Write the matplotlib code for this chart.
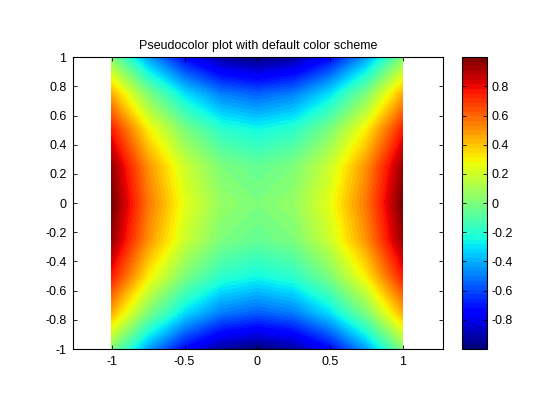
import numpy as np
import matplotlib
matplotlib.use('Agg')
import matplotlib.pyplot as plt

plt.rcParams['font.family'] = ['Liberation Sans', 'DejaVu Sans']
plt.rcParams['axes.unicode_minus'] = False

# grid nodes and the values (saddle, red at x=+-1, blue at y=+-1)
x_nodes = [-1, -0.75, -0.5, -0.25, 0, 0.25, 0.5, 0.75, 1]
y_nodes = [-1, -0.75, -0.5, -0.25, 0, 0.25, 0.5, 0.75, 1]
z_vals = [
    [0.00, -0.44, -0.75, -0.94, -1.00, -0.94, -0.75, -0.44, 0.00],
    [0.44, 0.00, -0.31, -0.50, -0.56, -0.50, -0.31, 0.00, 0.44],
    [0.75, 0.31, 0.00, -0.19, -0.25, -0.19, 0.00, 0.31, 0.75],
    [0.94, 0.50, 0.19, 0.00, -0.06, 0.00, 0.19, 0.50, 0.94],
    [1.00, 0.56, 0.25, 0.06, 0.00, 0.06, 0.25, 0.56, 1.00],
    [0.94, 0.50, 0.19, 0.00, -0.06, 0.00, 0.19, 0.50, 0.94],
    [0.75, 0.31, 0.00, -0.19, -0.25, -0.19, 0.00, 0.31, 0.75],
    [0.44, 0.00, -0.31, -0.50, -0.56, -0.50, -0.31, 0.00, 0.44],
    [0.00, -0.44, -0.75, -0.94, -1.00, -0.94, -0.75, -0.44, 0.00],
]
xticks = [-1, -0.5, 0, 0.5, 1]
xlabels = ['-1', '-0.5', '0', '0.5', '1']
yticks = [-1, -0.8, -0.6, -0.4, -0.2, 0, 0.2, 0.4, 0.6, 0.8, 1]
ylabels = ['-1', '-0.8', '-0.6', '-0.4', '-0.2', '0', '0.2', '0.4', '0.6', '0.8', '1']
cticks = [-0.8, -0.6, -0.4, -0.2, 0, 0.2, 0.4, 0.6, 0.8]
clabels = ['-0.8', '-0.6', '-0.4', '-0.2', '0', '0.2', '0.4', '0.6', '0.8']

Z = np.array(z_vals)
cmap = plt.get_cmap('jet', 64)
levels = np.linspace(Z.min(), Z.max(), 65)

fig = plt.figure(figsize=(5.6, 4.2), dpi=100)
ax = fig.add_axes([0.131, 0.169, 0.6596, 0.695])
cs = ax.contourf(x_nodes, y_nodes, Z, levels=levels, cmap=cmap, antialiased=False)

ax.set_xlim(-1.264, 1.275)
ax.set_ylim(-1, 1)
ax.set_xticks(xticks)
ax.set_xticklabels(xlabels)
ax.set_yticks(yticks)
ax.set_yticklabels(ylabels)
ax.tick_params(direction='in', top=True, right=True, labelsize=9, length=3, width=0.6, pad=5)
for s in ax.spines.values():
    s.set_linewidth(0.8)
ax.set_title('Pseudocolor plot with default color scheme', fontsize=9, pad=6)

cax = fig.add_axes([0.8255, 0.169, 0.0446, 0.695])
cb = fig.colorbar(cs, cax=cax)
cb.set_ticks(cticks)
cb.set_ticklabels(clabels)
cax.tick_params(direction='in', left=True, right=True, labelsize=9, length=3, width=0.6, pad=3)
cb.outline.set_linewidth(0.8)

fig.savefig('out.png', dpi=100)
